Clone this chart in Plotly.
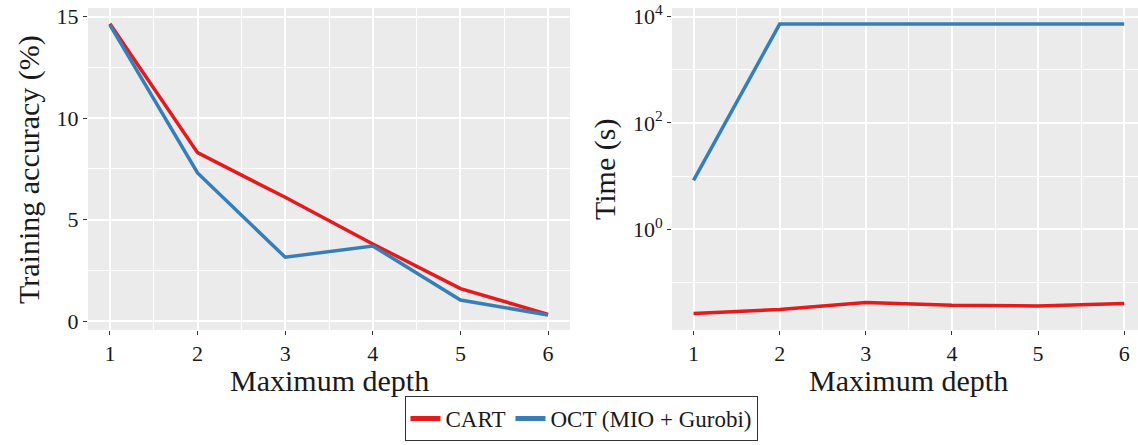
import plotly.graph_objects as go

depth = [1, 2, 3, 4, 5, 6]
cart_acc = [14.65, 8.3, 6.1, 3.8, 1.6, 0.33]
oct_acc = [14.6, 7.3, 3.15, 3.7, 1.04, 0.3]
cart_time = [0.026, 0.031, 0.042, 0.037, 0.036, 0.040]
oct_time = [8.3, 7200, 7200, 7200, 7200, 7200]
series_names = ["CART", "OCT (MIO + Gurobi)"]
colors = ["#E41A1C", "#377EB8"]

W, H = 1138, 445
FONT = "Liberation Serif"
BG = "#EBEBEB"

fig = go.Figure()
fig.add_trace(go.Scatter(x=depth, y=cart_acc, mode="lines", name=series_names[0],
                         line=dict(color=colors[0], width=3.5), xaxis="x", yaxis="y"))
fig.add_trace(go.Scatter(x=depth, y=oct_acc, mode="lines", name=series_names[1],
                         line=dict(color=colors[1], width=3.5), xaxis="x", yaxis="y"))
fig.add_trace(go.Scatter(x=depth, y=cart_time, mode="lines", name=series_names[0], showlegend=False,
                         line=dict(color=colors[0], width=3.5), xaxis="x2", yaxis="y2"))
fig.add_trace(go.Scatter(x=depth, y=oct_time, mode="lines", name=series_names[1], showlegend=False,
                         line=dict(color=colors[1], width=3.5), xaxis="x2", yaxis="y2"))

tickfont = dict(family=FONT, size=22, color="#1a1a1a")
common_x = dict(tickvals=depth, ticktext=[str(d) for d in depth], ticks="outside", ticklen=4,
                tickcolor="#333333", tickwidth=1.2, showgrid=True, gridcolor="white", gridwidth=1.6,
                zeroline=False, showline=False, tickfont=tickfont, automargin=False,
                minor=dict(tickvals=[1.5, 2.5, 3.5, 4.5, 5.5, 6.5], showgrid=True, gridcolor="white",
                           gridwidth=0.7, ticks=""))

y_top = 1 - 8 / H
y_bot = 1 - 330 / H

fig.update_layout(
    width=W, height=H,
    margin=dict(l=0, r=0, t=0, b=0),
    paper_bgcolor="white", plot_bgcolor=BG,
    font=dict(family=FONT, color="#1a1a1a"),
    xaxis=dict(domain=[88 / W, 570 / W], range=[0.75, 6.25], anchor="y", **common_x),
    yaxis=dict(domain=[y_bot, y_top], range=[-0.44, 15.43], anchor="x",
               tickvals=[0, 5, 10, 15], ticktext=["0", "5", "10", "15"],
               ticks="outside", ticklen=4, tickcolor="#333333", tickwidth=1.2,
               showgrid=True, gridcolor="white", gridwidth=1.6, zeroline=False,
               tickfont=tickfont, automargin=False,
               minor=dict(tickvals=[2.5, 7.5, 12.5], showgrid=True, gridcolor="white",
                          gridwidth=0.7, ticks="")),
    xaxis2=dict(domain=[672 / W, 1.0], range=[0.75, 6.16], anchor="y2", **common_x),
    yaxis2=dict(domain=[y_bot, y_top], type="log", range=[-1.895, 4.16], anchor="x2",
                tickvals=[1, 100, 10000], ticktext=["10<sup>0</sup>", "10<sup>2</sup>", "10<sup>4</sup>"],
                ticks="outside", ticklen=4, tickcolor="#333333", tickwidth=1.2,
                showgrid=True, gridcolor="white", gridwidth=1.6, zeroline=False,
                tickfont=tickfont, automargin=False,
                minor=dict(tickvals=[0.1, 10, 1000], showgrid=True, gridcolor="white",
                           gridwidth=0.7, ticks="")),
    legend=dict(orientation="h", x=(385 + 777) / 2 / W, xanchor="center", y=1 - 396 / H, yanchor="top",
                bordercolor="#333333", borderwidth=1, bgcolor="white",
                font=dict(family=FONT, size=23, color="#1a1a1a"),
                itemsizing="constant"),
    showlegend=True,
)

titlefont = dict(family=FONT, size=30, color="#1a1a1a")
fig.add_annotation(text="Maximum depth", x=(88 + 570) / 2 / W, y=1 - 380 / H, xref="paper", yref="paper",
                   showarrow=False, font=titlefont, xanchor="center", yanchor="middle", borderpad=0)
fig.add_annotation(text="Maximum depth", x=(672 + 1145) / 2 / W, y=1 - 380 / H, xref="paper", yref="paper",
                   showarrow=False, font=titlefont, xanchor="center", yanchor="middle", borderpad=0)
fig.add_annotation(text="Training accuracy (%)", x=29 / W, y=1 - 170 / H, xref="paper", yref="paper",
                   showarrow=False, font=titlefont, textangle=-90, xanchor="center", yanchor="middle")
fig.add_annotation(text="Time (s)", x=605 / W, y=1 - 170 / H, xref="paper", yref="paper",
                   showarrow=False, font=titlefont, textangle=-90, xanchor="center", yanchor="middle")

fig.write_html("out.html")
